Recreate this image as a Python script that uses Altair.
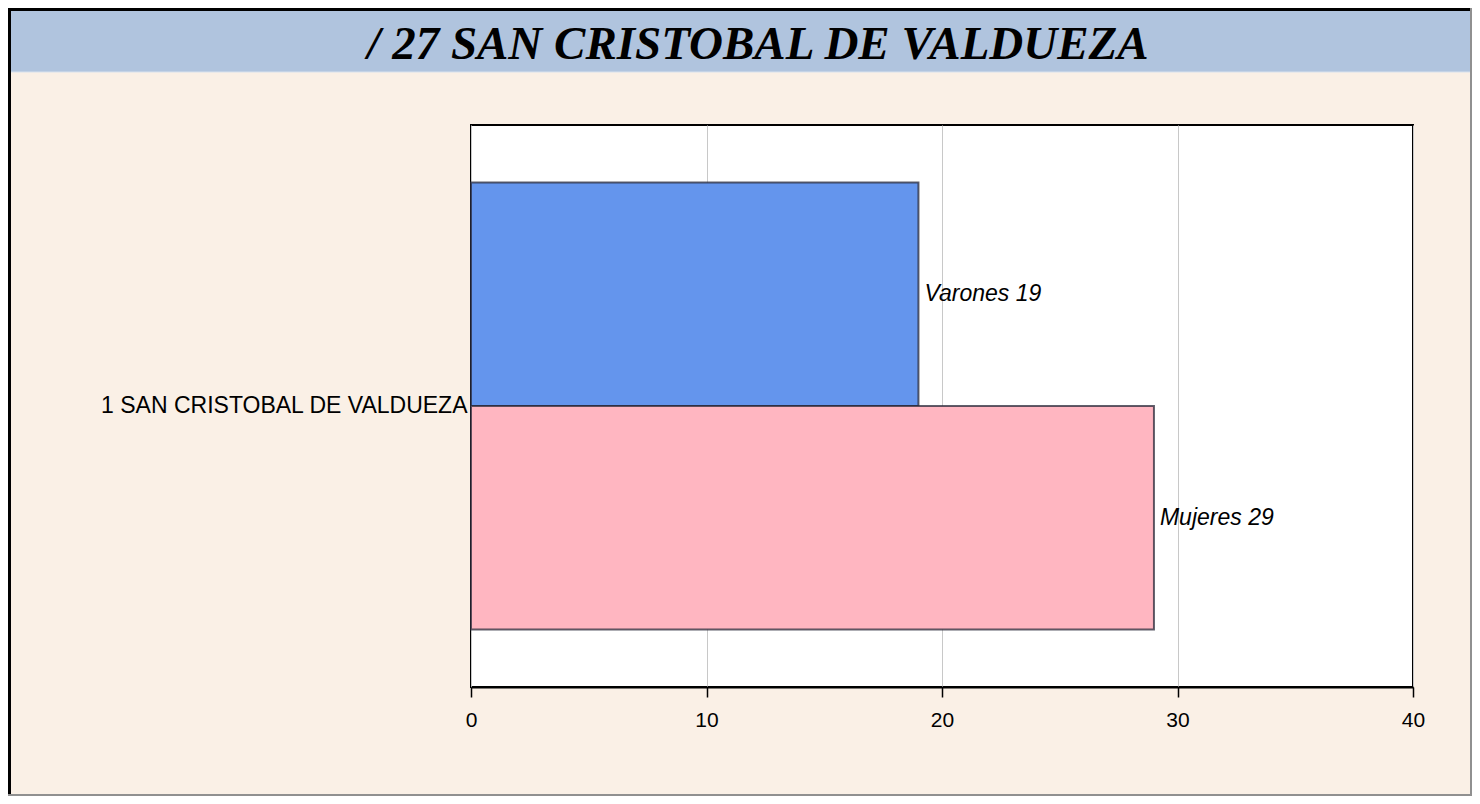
import altair as alt
import pandas as pd

# ---- data ----
categories = ["1 SAN CRISTOBAL DE VALDUEZA"]
series = ["Varones", "Mujeres"]
values = [19, 29]
colors = ["#6495ED", "#FFB6C1"]
x_ticks = [0, 10, 20, 30, 40]
title_text = "/ 27 SAN CRISTOBAL DE VALDUEZA"

df = pd.DataFrame({
    "cat": [categories[0]] * len(series),
    "serie": series,
    "value": values,
    "label": [f"{s} {v}" for s, v in zip(series, values)],
})
one = pd.DataFrame({"t": [title_text]})

# layout (plot area 942x562, padding places it like the reference)
W, H = 942, 562
PL, PT, PR, PB = 463, 117, 59, 109

x_enc = alt.X(
    "value:Q",
    scale=alt.Scale(domain=[0, 40], nice=False),
    axis=alt.Axis(
        values=x_ticks, title=None, grid=True, gridColor="#C8C8C8", gridWidth=1,
        domainColor="#000000", domainWidth=2, tickColor="#000000", tickWidth=1.5,
        tickSize=10, labelFont="Liberation Sans", labelFontSize=21,
        labelColor="#000000", labelPadding=12, labelFlush=False,
    ),
)
y_enc = alt.Y(
    "cat:N",
    scale=alt.Scale(paddingInner=0, paddingOuter=0),
    axis=alt.Axis(
        title=None, ticks=False, domain=False, labelFont="Liberation Sans",
        labelFontSize=23, labelColor="#000000", labelPadding=4, labelLimit=500,
    ),
)
yoff_enc = alt.YOffset(
    "serie:N", sort=series, scale=alt.Scale(paddingInner=0, paddingOuter=0.2575)
)

bars = alt.Chart(df).mark_bar(
    stroke="#2a2a3a", strokeWidth=2, strokeOpacity=0.75
).encode(
    x=x_enc,
    y=y_enc,
    yOffset=yoff_enc,
    color=alt.Color("serie:N", scale=alt.Scale(domain=series, range=colors), legend=None),
)

labels = alt.Chart(df).mark_text(
    align="left", baseline="middle", dx=6, font="Liberation Sans",
    fontStyle="italic", fontSize=23, color="#000000",
).encode(
    x=alt.X("value:Q"),
    y=alt.Y("cat:N"),
    yOffset=alt.YOffset("serie:N", sort=series),
    text="label:N",
)

band = alt.Chart(one).mark_rect(fill="#B0C4DE", clip=False).encode(
    x=alt.value(-PL), x2=alt.value(W + PR), y=alt.value(-PT), y2=alt.value(-53)
)
band_line = alt.Chart(one).mark_rule(color="#D8E2EE", strokeWidth=1).encode(
    x=alt.value(-PL), x2=alt.value(W + PR), y=alt.value(-53)
)
title = alt.Chart(one).mark_text(
    font="Liberation Serif", fontStyle="italic", fontWeight="bold", fontSize=47,
    color="#000000", align="center", baseline="middle",
).encode(x=alt.value(287), y=alt.value(-80), text="t:N")

border_lt = alt.Chart(one).mark_rule(color="#000000", strokeWidth=3).encode(
    x=alt.value(-PL + 1.5), y=alt.value(-PT), y2=alt.value(H + PB)
)
border_tp = alt.Chart(one).mark_rule(color="#000000", strokeWidth=3).encode(
    x=alt.value(-PL), x2=alt.value(W + PR), y=alt.value(-PT + 1.5)
)
border_rt = alt.Chart(one).mark_rule(color="#909090", strokeWidth=2).encode(
    x=alt.value(W + PR - 1), y=alt.value(-PT), y2=alt.value(H + PB)
)
border_bt = alt.Chart(one).mark_rule(color="#909090", strokeWidth=2).encode(
    x=alt.value(-PL), x2=alt.value(W + PR), y=alt.value(H + PB - 1)
)

chart = alt.layer(
    band, band_line, title, bars, labels, border_lt, border_tp, border_rt, border_bt
).properties(
    width=W, height=H,
    autosize=alt.AutoSizeParams(type="none"),
    padding={"left": PL, "top": PT, "right": PR, "bottom": PB},
    background="#FAF0E6",
).configure_view(
    fill="#FFFFFF", stroke="#000000", strokeWidth=2
)

chart.save("out.html", embed_options={"renderer": "svg", "actions": False})
